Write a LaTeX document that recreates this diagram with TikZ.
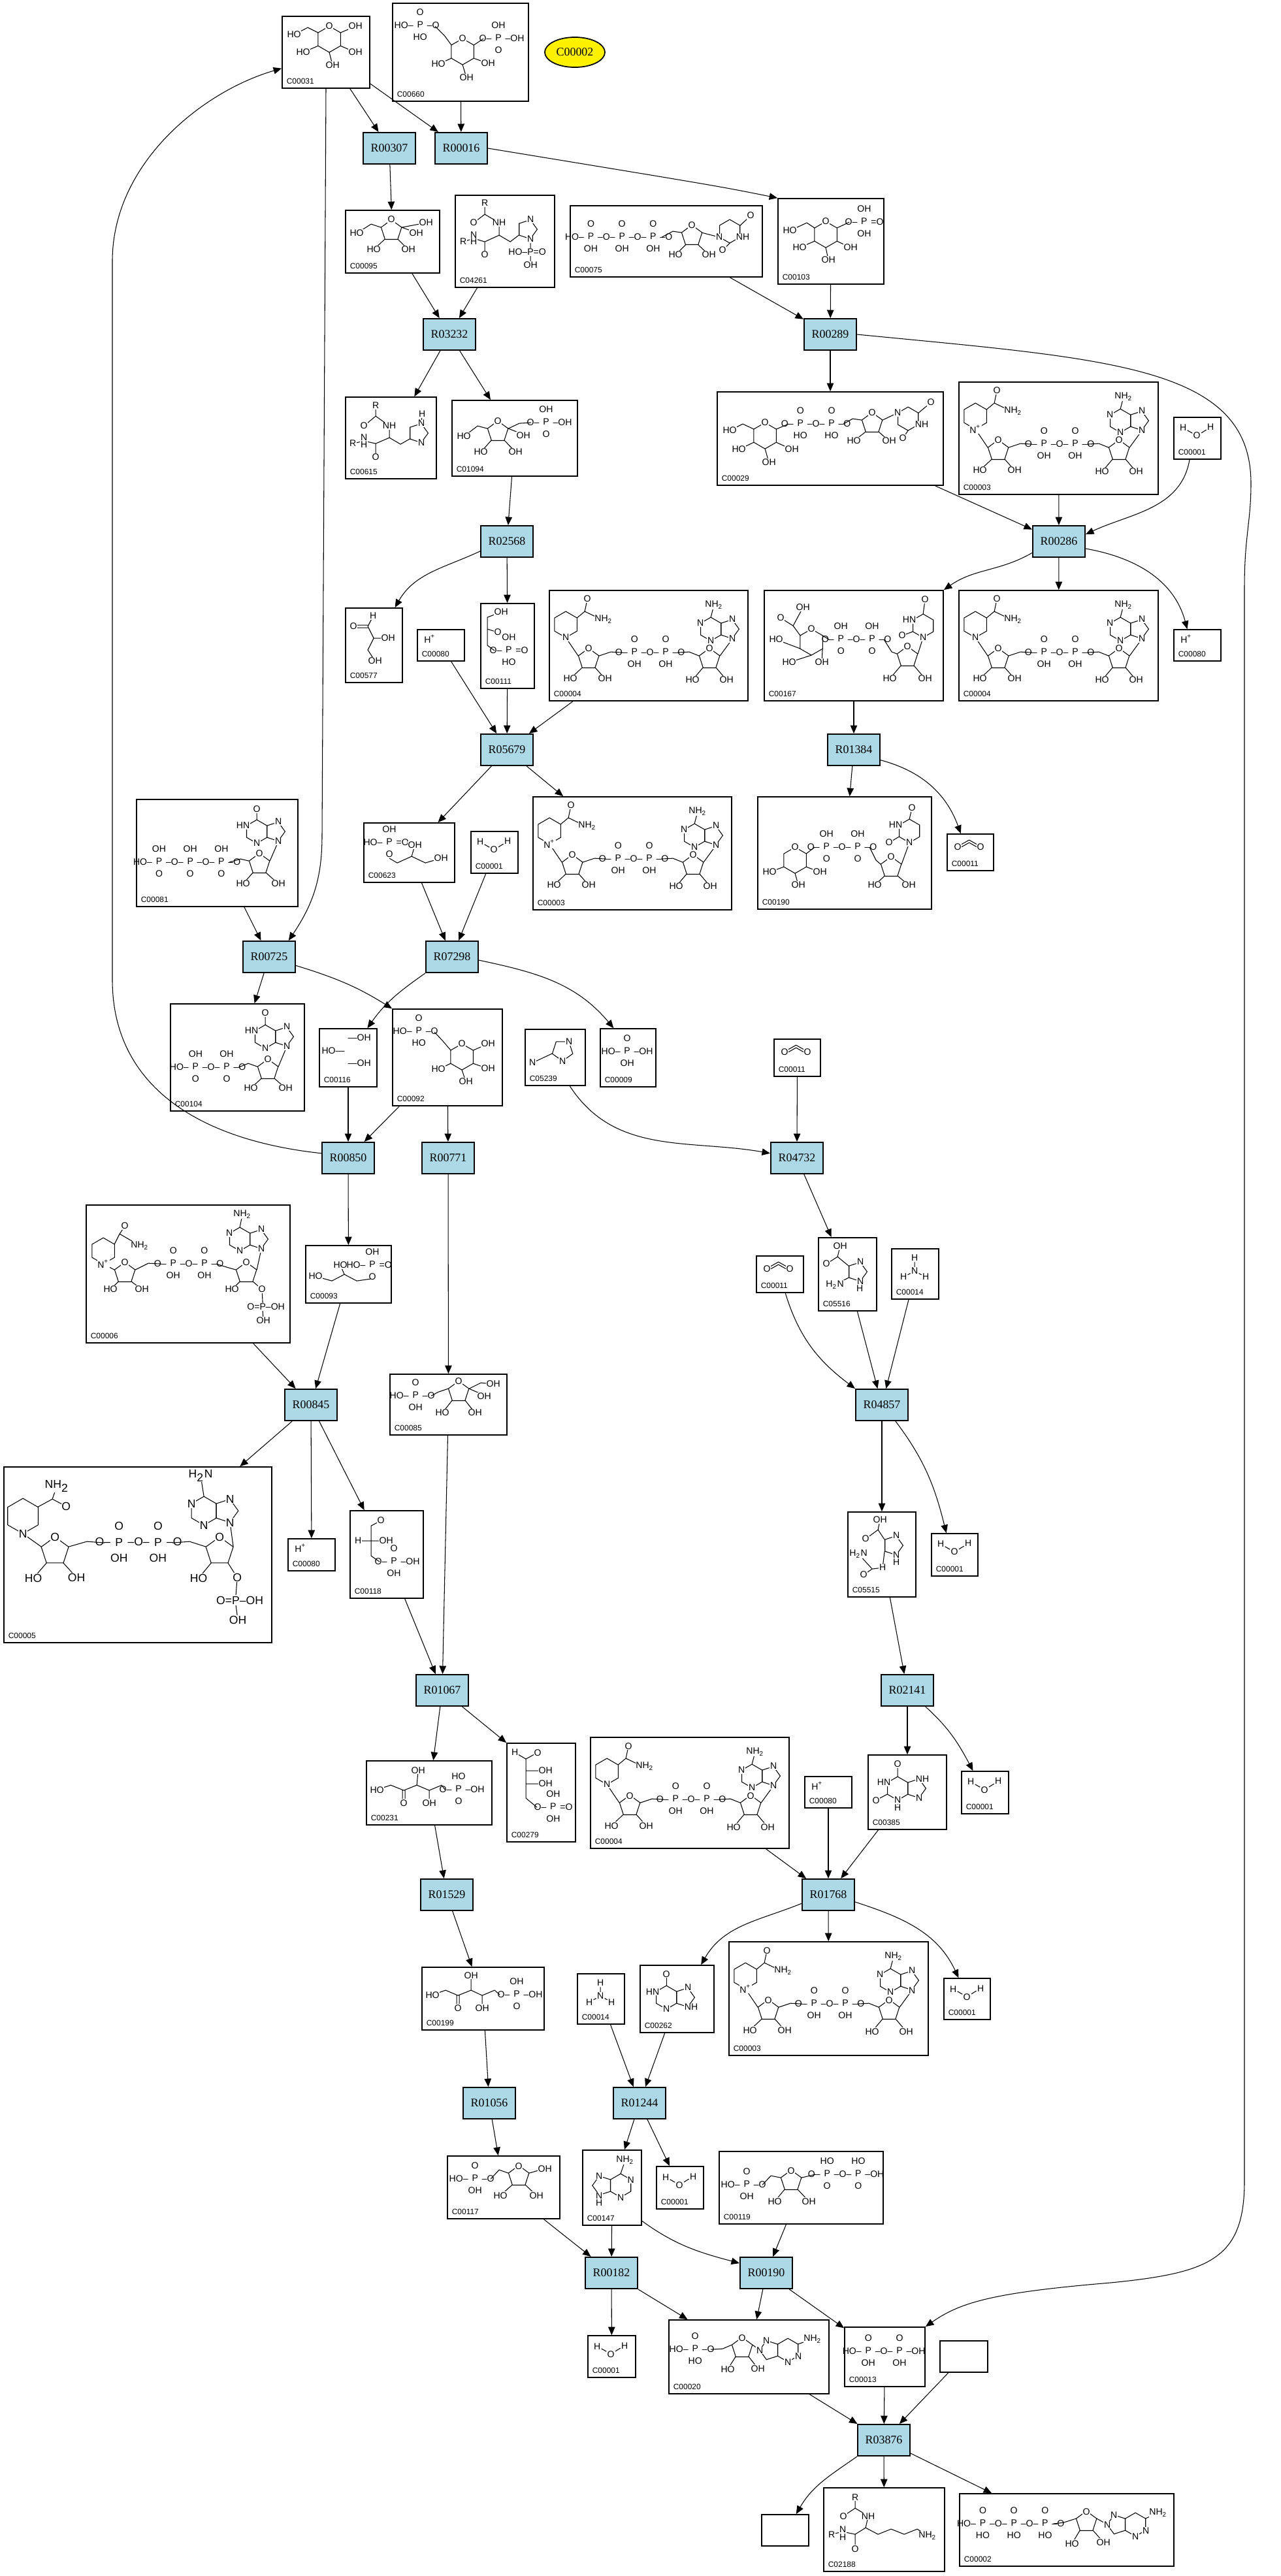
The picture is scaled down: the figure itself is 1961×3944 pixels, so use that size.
\documentclass[tikz,border=0pt]{standalone}
\usepackage{fontspec}
\setmainfont{Liberation Serif}
\setsansfont{Liberation Sans}
\usetikzlibrary{arrows.meta,calc,fit,positioning,shapes.geometric}
\definecolor{rxnblue}{HTML}{ADD8E6}

\tikzset{
  rxn/.style={draw, line width=0.55pt, fill=rxnblue, minimum width=0.8cm, minimum height=0.48cm, inner sep=0pt, font=\fontsize{5.1}{6}\selectfont},
  cpd/.style={draw, line width=0.5pt, inner sep=0pt},
  cid/.style={anchor=south west, inner sep=0.07cm, font=\sffamily\fontsize{3.4}{4}\selectfont},
  arr/.style={line width=0.3pt, -{Triangle[length=1.25mm,width=1.05mm]}},
  atom/.style={inner sep=0.2pt, fill=white, font=\sffamily\fontsize{4}{5.4}\selectfont},
  atomb/.style={atom, font=\sffamily\fontsize{5}{7}\selectfont},
  chain/.style={atom, fill=none},
  chainb/.style={atomb, fill=none},
  bond/.style={line width=0.3pt},
  ring6/.style={draw, line width=0.3pt, inner sep=0pt, regular polygon, regular polygon sides=6, shape border rotate=30, minimum size=0.40cm},
  ring6s/.style={ring6, minimum size=0.36cm},
  ring5/.style={draw, line width=0.3pt, inner sep=0pt, regular polygon, regular polygon sides=5, minimum size=0.33cm},
  ring5l/.style={ring5, minimum size=0.306cm, shape border rotate=270},
  ring5r/.style={ring5, minimum size=0.306cm, shape border rotate=90},
}

\newcommand\atm[3]{\node[atom] at (#1,#2) {#3};}
\newcommand\atmb[3]{\node[atomb] at (#1,#2) {#3};}
\newcommand\chn[3]{\node[chain] at (#1,#2) {#3};}
\newcommand\chnb[3]{\node[chainb] at (#1,#2) {#3};}
\newcommand\Pv[2]{\begin{tabular}{@{}c@{}}#1\\P\\#2\end{tabular}}

\newcommand\water[1]{%
  \path (#1.north west) ++(15,17) node[atom] (#1-h1) {H} ++(21,12) node[atom] (#1-o) {O} ++(21,-13) node[atom] (#1-h2) {H};
  \draw[bond] (#1-h1) -- (#1-o) -- (#1-h2);}
\newcommand\proton[1]{%
  \path (#1.north west) ++(20,15) node[atom] {H\textsuperscript{+}};}
\newcommand\ammonia[1]{%
  \path (#1.north west) ++(36,15) node[atom] (#1-ht) {H} ++(0,20) node[atom] (#1-n) {N} ++(-17,9) node[atom] (#1-hl) {H} ++(34,0) node[atom] (#1-hr) {H};
  \draw[bond] (#1-ht) -- (#1-n) -- (#1-hl) (#1-n) -- (#1-hr);}
\newcommand\molco[1]{\begin{scope}[shift={(#1.north west)}]
  \draw[bond] (22,17)--(34.5,10)--(47,17) (23,20.5)--(34.5,14)--(46,20.5);
  \atm{17}{21}{O}\atm{52}{21}{O}
\end{scope}}

\newcommand\molglucose[1]{\begin{scope}[shift={(#1.north west)}]
  \node[ring6] at (73,36) {};
  \draw[bond] (90,26)--(113,16) (90,46)--(113,56) (73,56)--(78,76) (56,46)--(33,56) (56,26)--(40,18)--(19,29);
  \atm{73}{16}{O}\atm{113}{16}{OH}\atm{19}{29}{HO}\atm{33}{56}{HO}\atm{113}{56}{OH}\atm{78}{76}{OH}
\end{scope}}
\newcommand\molglcbisp[1]{\begin{scope}[shift={(#1.north west)}]
  \node[ring6] at (108,75) {};
  \draw[bond] (91,65)--(80,50)--(66,36) (125,65)--(140,55) (125,85)--(147,93) (108,95)--(114,115) (91,85)--(71,94);
  \atm{108}{55}{O}\chn{38}{35}{HO--\Pv{O}{HO}--O}\chn{168}{55}{O--\Pv{OH}{O}--OH}
  \atm{147}{93}{OH}\atm{114}{115}{OH}\atm{71}{94}{HO}
\end{scope}}
\newcommand\molfructose[1]{\begin{scope}[shift={(#1.north west)}]
  \node[ring5] at (71,32) {};
  \draw[bond] (87,27)--(124,20) (87,27)--(109,35) (81,45)--(97,61) (61,45)--(44,61) (55,27)--(40,22)--(18,36);
  \atm{71}{15}{O}\atm{124}{20}{OH}\atm{109}{36}{OH}\atm{18}{36}{HO}\atm{44}{61}{HO}\atm{97}{61}{OH}
\end{scope}}
\newcommand\molhisp[1]{\begin{scope}[shift={(#1.north west)}]
  \node[ring5l] at (111,53) {};
  \draw[bond] (46,13)--(46,30)--(29,43) (46,30)--(68,43) (68,43)--(68,62)--(46,72)--(46,92) (46,72)--(29,67) (13,72)--(29,67) (68,62)--(85,72)--(98,62) (116,68)--(116,82) (116,94)--(116,103);
  \atm{46}{13}{R}\atm{29}{43}{O}\atm{68}{43}{NH}\atm{29}{62}{N}\atm{29}{72}{H}\atm{13}{72}{R}\atm{46}{92}{O}
  \atm{116}{38}{N}\atm{116}{68}{N}\chn{111}{88}{HO--P=O}\atm{116}{108}{OH}
\end{scope}}
\newcommand\molutp[1]{\begin{scope}[shift={(#1.north west)}]
  \node[ring5] at (187,47) {}; \node[ring6s] at (245,40) {};
  \draw[bond] (141,49)--(158,40)--(172,42) (178,60)--(162,76) (196,60)--(213,76) (202,42)--(229,49) (261,31)--(277,16) (245,58)--(234,69);
  \chn{75}{49}{HO--\Pv{O}{OH}--O--\Pv{O}{OH}--O--\Pv{O}{OH}--O}\atm{187}{31}{O}\atm{162}{76}{HO}\atm{213}{76}{OH}
  \atm{229}{49}{N}\atm{265}{49}{NH}\atm{277}{16}{O}\atm{234}{69}{O}
\end{scope}}
\newcommand\molgonep[1]{\begin{scope}[shift={(#1.north west)}]
  \node[ring6] at (74,56) {};
  \draw[bond] (57,46)--(45,38)--(19,50) (57,66)--(34,76) (91,66)--(112,76) (74,76)--(78,95) (91,46)--(110,37);
  \atm{74}{36}{O}\atm{19}{50}{HO}\atm{34}{76}{HO}\atm{112}{76}{OH}\atm{78}{95}{OH}\chn{133}{37}{O--\Pv{OH}{OH}=O}
\end{scope}}
\newcommand\molhis[1]{\begin{scope}[shift={(#1.north west)}]
  \node[ring5l] at (112,56) {};
  \draw[bond] (47,14)--(47,30)--(29,45) (47,30)--(68,45) (68,45)--(68,63)--(47,72)--(47,93) (47,72)--(29,68) (12,72)--(29,68) (68,63)--(85,73)--(99,65) (117,41)--(118,27);
  \atm{47}{14}{R}\atm{29}{45}{O}\atm{68}{45}{NH}\atm{29}{63}{N}\atm{29}{74}{H}\atm{12}{72}{R}\atm{47}{93}{O}
  \atm{118}{27}{H}\atm{117}{41}{N}\atm{117}{71}{N}
\end{scope}}
\newcommand\molribp[1]{\begin{scope}[shift={(#1.north west)}]
  \node[ring5] at (71,49) {};
  \draw[bond] (55,44)--(40,40)--(19,56) (61,62)--(45,80) (81,62)--(98,80) (87,44)--(110,53) (87,44)--(104,36)--(122,35);
  \atm{71}{33}{O}\atm{19}{56}{HO}\atm{45}{80}{HO}\atm{98}{80}{OH}\atm{110}{55}{OH}\chn{150}{35}{O--\Pv{OH}{O}--OH}
\end{scope}}
\newcommand\moludpg[1]{\begin{scope}[shift={(#1.north west)}]
  \node[ring6] at (74,68) {}; \node[ring5] at (238,49) {}; \node[ring6s] at (293,42) {};
  \draw[bond] (57,58)--(40,50)--(20,60) (57,78)--(34,89) (91,78)--(115,89) (74,88)--(80,109) (91,58)--(110,50) (194,50)--(208,42)--(222,44) (228,62)--(210,76) (248,62)--(264,76) (254,44)--(277,33) (309,33)--(328,17) (293,60)--(285,72);
  \atm{74}{48}{O}\atm{20}{60}{HO}\atm{34}{89}{HO}\atm{115}{89}{OH}\atm{80}{109}{OH}
  \chn{152}{50}{O--\Pv{O}{HO}--O--\Pv{O}{HO}--O}\atm{238}{33}{O}\atm{210}{76}{HO}\atm{264}{76}{OH}
  \atm{277}{33}{N}\atm{314}{51}{NH}\atm{328}{17}{O}\atm{285}{72}{O}
\end{scope}}
\newcommand\molnad[2]{\begin{scope}[shift={(#1.north west)}]
  \node[ring6] at (26,53) {}; \node[ring5] at (61,106) {}; \node[ring5] at (246,106) {};
  \node[ring6s] at (248,60) {}; \node[ring5l] at (276,60) {};
  \draw[bond] (43,43)--(55,33)--(59,14) (55,33)--(80,45) (26,73)--(45,101) (51,119)--(33,136) (71,119)--(86,136) (77,101)--(95,95)--(113,96) (197,96)--(215,95)--(230,101) (236,119)--(220,138) (256,119)--(272,138) (262,101)--(281,75) (248,42)--(253,23);
  \atm{26}{73}{#2}\atm{59}{14}{O}\atm{84}{45}{NH\textsubscript{2}}\atm{61}{90}{O}\atm{33}{136}{HO}\atm{86}{136}{OH}
  \chn{155}{96}{O--\Pv{O}{OH}--O--\Pv{O}{OH}--O}\atm{246}{90}{O}\atm{220}{138}{HO}\atm{272}{138}{OH}
  \atm{232}{51}{N}\atm{248}{78}{N}\atm{281}{45}{N}\atm{281}{75}{N}\atm{253}{23}{NH\textsubscript{2}}
\end{scope}}
\newcommand\molglyald[1]{\begin{scope}[shift={(#1.north west)}]
  \draw[bond] (13,27)--(35,27) (13,31)--(35,31) (35,29)--(43,13) (35,29)--(44,47)--(35,65)--(46,82) (44,47)--(66,47);
  \atm{43}{13}{H}\atm{13}{29}{O}\atm{66}{47}{OH}\atm{46}{82}{OH}
\end{scope}}
\newcommand\moldhap[1]{\begin{scope}[shift={(#1.north west)}]
  \draw[bond] (32,14)--(11,22)--(11,65)--(22,73) (11,40)--(27,45);
  \atm{32}{14}{OH}\atm{27}{45}{O}\chn{44}{73}{O--\Pv{OH}{HO}=O}
\end{scope}}
\newcommand\moludpgluc[1]{\begin{scope}[shift={(#1.north west)}]
  \node[ring6] at (73,80) {}; \node[ring5] at (220,103) {}; \node[ring6s] at (244,55) {};
  \draw[bond] (56,70)--(45,55)--(26,43) (45,55)--(60,27) (56,90)--(19,76) (73,100)--(39,111) (90,90)--(89,111) (90,70)--(100,76) (184,76)--(196,95)--(204,98) (210,116)--(193,136) (230,116)--(247,136) (236,98)--(244,73) (244,37)--(247,15) (228,64)--(212,70);
  \atm{60}{27}{OH}\atm{26}{43}{O}\atm{73}{60}{O}\atm{19}{76}{HO}\atm{39}{111}{HO}\atm{89}{111}{OH}
  \chn{142}{76}{O--\Pv{OH}{O}--O--\Pv{OH}{O}--O}\atm{220}{87}{O}\atm{193}{136}{HO}\atm{247}{136}{OH}
  \atm{244}{73}{N}\atm{223}{46}{HN}\atm{212}{70}{O}\atm{247}{15}{O}
\end{scope}}
\newcommand\molitp[1]{\begin{scope}[shift={(#1.north west)}]
  \node[ring6s] at (185,50) {}; \node[ring5l] at (213,50) {}; \node[ring5] at (189,100) {};
  \draw[bond] (185,32)--(185,16) (143,97)--(160,92)--(173,95) (179,113)--(164,130) (199,113)--(218,130) (205,95)--(218,65);
  \atm{185}{16}{O}\atm{164}{41}{HN}\atm{185}{68}{N}\atm{218}{35}{N}\atm{218}{65}{N}
  \chn{78}{97}{HO--\Pv{OH}{O}--O--\Pv{OH}{O}--O--\Pv{OH}{O}--O}\atm{189}{84}{O}\atm{164}{130}{HO}\atm{218}{130}{OH}
\end{scope}}
\newcommand\molglyp[1]{\begin{scope}[shift={(#1.north west)}]
  \draw[bond] (40,55)--(52,62)--(74,52)--(95,62)--(119,55) (74,52)--(79,35);
  \chn{35}{31}{HO--\Pv{OH}{O}=O}\atm{79}{35}{OH}\atm{119}{55}{OH}
\end{scope}}
\newcommand\moludpx[1]{\begin{scope}[shift={(#1.north west)}]
  \node[ring6] at (58,98) {}; \node[ring5] at (205,109) {}; \node[ring6s] at (233,53) {};
  \draw[bond] (41,108)--(19,116) (75,108)--(96,116) (58,118)--(63,136) (75,88)--(88,78) (172,78)--(182,98)--(189,104) (195,122)--(180,136) (215,122)--(232,136) (221,104)--(233,71) (217,62)--(202,71) (233,35)--(237,18);
  \atm{58}{78}{O}\atm{19}{116}{HO}\atm{96}{116}{OH}\atm{63}{136}{OH}
  \chn{130}{78}{O--\Pv{OH}{O}--O--\Pv{OH}{O}--O}\atm{205}{93}{O}\atm{180}{136}{HO}\atm{232}{136}{OH}
  \atm{233}{71}{N}\atm{212}{44}{HN}\atm{202}{71}{O}\atm{237}{18}{O}
\end{scope}}
\newcommand\molidp[1]{\begin{scope}[shift={(#1.north west)}]
  \node[ring6s] at (146,51) {}; \node[ring5l] at (174,51) {}; \node[ring5] at (150,102) {};
  \draw[bond] (146,33)--(146,15) (105,98)--(120,92)--(134,97) (140,115)--(124,130) (160,115)--(177,130) (166,97)--(179,66);
  \atm{146}{15}{O}\atm{125}{42}{HN}\atm{146}{69}{N}\atm{179}{36}{N}\atm{179}{66}{N}
  \chn{58}{98}{HO--\Pv{OH}{O}--O--\Pv{OH}{O}--O}\atm{150}{86}{O}\atm{124}{130}{HO}\atm{177}{130}{OH}
\end{scope}}
\newcommand\molglycerol[1]{\begin{scope}[shift={(#1.north west)}]
  \atm{62}{15}{---OH}\atm{22}{35}{HO---}\atm{62}{54}{---OH}
\end{scope}}
\newcommand\molgsixp[1]{\begin{scope}[shift={(#1.north west)}]
  \node[ring6] at (107,74) {};
  \draw[bond] (90,64)--(78,50)--(65,36) (124,64)--(147,54) (124,84)--(147,92) (107,94)--(113,112) (90,84)--(71,93);
  \atm{107}{54}{O}\chn{36}{35}{HO--\Pv{O}{HO}--O}\atm{147}{54}{OH}\atm{147}{92}{OH}\atm{113}{112}{OH}\atm{71}{93}{HO}
\end{scope}}
\newcommand\molaimid[1]{\begin{scope}[shift={(#1.north west)}]
  \node[ring5, shape border rotate=36] at (58,33) {};
  \draw[bond] (42,38)--(12,52);
  \atm{68}{20}{N}\atm{58}{50}{N}\atm{12}{52}{N}
\end{scope}}
\newcommand\molpi[1]{\begin{scope}[shift={(#1.north west)}]
  \chn{42}{36}{HO--\Pv{O}{OH}--OH}
\end{scope}}
\newcommand\molnadp[1]{\begin{scope}[shift={(#1.north west)}]
  \node[ring6] at (27,71) {}; \node[ring5] at (60,105) {}; \node[ring5] at (246,105) {};
  \node[ring6s] at (236,53) {}; \node[ring5l] at (264,53) {};
  \draw[bond] (44,61)--(52,45)--(60,33) (52,45)--(83,63) (27,91)--(44,100) (50,118)--(38,130) (70,118)--(86,130) (76,100)--(96,90)--(116,91) (200,91)--(216,96)--(230,100) (236,118)--(224,130) (256,118)--(270,130)--(271,151) (271,163)--(272,178) (262,100)--(269,68) (236,35)--(240,15);
  \atm{27}{91}{N\textsuperscript{+}}\atm{60}{33}{O}\atm{83}{63}{NH\textsubscript{2}}\atm{60}{89}{O}\atm{38}{130}{HO}\atm{86}{130}{OH}
  \chn{158}{91}{O--\Pv{O}{OH}--O--\Pv{O}{OH}--O}\atm{246}{89}{O}\atm{224}{130}{HO}\atm{270}{130}{O}
  \chn{276}{157}{O=P--OH}\atm{272}{178}{OH}\atm{220}{44}{N}\atm{236}{71}{N}\atm{269}{38}{N}\atm{269}{68}{N}\atm{240}{15}{NH\textsubscript{2}}
\end{scope}}
\newcommand\molglycp[1]{\begin{scope}[shift={(#1.north west)}]
  \draw[bond] (16,48)--(41,55)--(60,45)--(79,55)--(100,52) (60,45)--(54,31);
  \atm{16}{48}{HO}\atm{54}{31}{HO}\chn{98}{31}{HO--\Pv{OH}{O}=O}
\end{scope}}
\newcommand\molaicar[1]{\begin{scope}[shift={(#1.north west)}]
  \node[ring5l] at (60,53) {};
  \draw[bond] (34,14)--(30,30)--(13,41) (30,30)--(47,44) (47,62)--(26,73) (65,68)--(64,79);
  \atm{34}{14}{OH}\atm{13}{41}{O}\atm{65}{38}{N}\atm{65}{68}{N}\atm{64}{79}{H}\atm{26}{73}{H\textsubscript{2}N}
\end{scope}}
\newcommand\molfsixp[1]{\begin{scope}[shift={(#1.north west)}]
  \node[ring5] at (106,28) {};
  \draw[bond] (90,23)--(75,28)--(64,34) (122,23)--(140,14)--(159,16) (122,23)--(145,33) (96,41)--(81,60) (116,41)--(131,60);
  \atm{106}{12}{O}\chn{35}{34}{HO--\Pv{O}{OH}--O}\atm{159}{16}{OH}\atm{145}{35}{OH}\atm{81}{60}{HO}\atm{131}{60}{OH}
\end{scope}}
\newcommand\molnadph[1]{\begin{scope}[shift={(#1.north west)}]
  \node[ring6, minimum size=0.54cm] at (30,76) {}; \node[ring5, minimum size=0.44cm] at (79,130) {};
  \node[ring5, minimum size=0.44cm] at (331,130) {}; \node[ring6, minimum size=0.44cm] at (307,68) {};
  \node[ring5l, minimum size=0.374cm] at (341,68) {};
  \draw[bond] (53,62)--(75,50)--(82,30) (75,50)--(96,61) (30,103)--(58,123) (66,148)--(46,171) (92,148)--(112,170) (100,123)--(128,115)--(155,117) (259,117)--(285,115)--(310,123) (318,148)--(299,171) (344,148)--(358,170)--(356,197) (356,213)--(359,235) (352,123)--(347,86) (307,46)--(302,14);
  \atmb{30}{103}{N}\atmb{82}{30}{NH\textsubscript{2}}\atmb{96}{61}{O}\atmb{79}{108}{O}\atmb{46}{171}{HO}\atmb{112}{170}{OH}
  \chnb{207}{117}{O--\Pv{O}{OH}--O--\Pv{O}{OH}--O}\atmb{331}{108}{O}\atmb{299}{171}{HO}\atmb{358}{170}{O}
  \chnb{362}{205}{O=P--OH}\atmb{359}{235}{OH}\atmb{288}{57}{N}\atmb{307}{90}{N}\atmb{347}{50}{N}\atmb{347}{86}{N}\atmb{302}{14}{H\textsubscript{2}N}
\end{scope}}
\newcommand\molgap[1]{\begin{scope}[shift={(#1.north west)}]
  \draw[bond] (48,16)--(33,24)--(33,70)--(46,79) (13,47)--(56,47);
  \atm{48}{16}{O}\atm{13}{47}{H}\atm{56}{47}{OH}\chn{73}{79}{O--\Pv{O}{OH}--OH}
\end{scope}}
\newcommand\molaicarb[1]{\begin{scope}[shift={(#1.north west)}]
  \node[ring5l] at (70,52) {};
  \draw[bond] (50,13)--(47,28)--(28,42) (47,28)--(57,43) (57,61)--(54,86)--(38,88)--(25,97) (38,88)--(17,65) (75,67)--(75,78);
  \atm{50}{13}{OH}\atm{28}{42}{O}\atm{75}{37}{N}\atm{75}{67}{N}\atm{75}{78}{H}\atm{17}{65}{H\textsubscript{2}N}\atm{25}{97}{O}\atm{54}{86}{H}
\end{scope}}
\newcommand\molxup[1]{\begin{scope}[shift={(#1.north west)}]
  \draw[bond] (17,45)--(38,38)--(58,46)--(78,38)--(97,46)--(116,38)--(121,45) (56,46)--(56,65) (60,46)--(60,65) (78,38)--(80,15) (97,46)--(97,65);
  \atm{17}{45}{HO}\atm{58}{65}{O}\atm{80}{15}{OH}\atm{97}{65}{OH}\chn{147}{45}{O--\Pv{HO}{O}--OH}
\end{scope}}
\newcommand\molerythp[1]{\begin{scope}[shift={(#1.north west)}]
  \draw[bond] (13,15)--(30,25)--(48,15) (30,25)--(30,85)--(47,99) (30,43)--(52,43) (30,63)--(52,63);
  \atm{13}{15}{H}\atm{48}{15}{O}\atm{60}{43}{OH}\atm{60}{63}{OH}\chn{72}{99}{O--\Pv{OH}{OH}=O}
\end{scope}}
\newcommand\molxan[1]{\begin{scope}[shift={(#1.north west)}]
  \node[ring6s] at (46,52) {}; \node[ring5l] at (74,52) {};
  \draw[bond] (46,34)--(46,15) (30,61)--(13,70) (46,70)--(46,82);
  \atm{46}{15}{O}\atm{25}{43}{HN}\atm{84}{38}{NH}\atm{13}{70}{O}\atm{46}{70}{N}\atm{46}{82}{H}\atm{79}{67}{N}
\end{scope}}
\newcommand\molruvp[1]{\begin{scope}[shift={(#1.north west)}]
  \draw[bond] (17,43)--(37,36)--(56,44)--(76,36)--(93,44)--(112,36)--(120,43) (54,44)--(54,63) (58,44)--(58,63) (76,36)--(76,13) (93,44)--(93,63);
  \atm{17}{43}{HO}\atm{56}{63}{O}\atm{76}{13}{OH}\atm{93}{63}{OH}\chn{151}{43}{O--\Pv{OH}{O}--OH}
\end{scope}}
\newcommand\molhypox[1]{\begin{scope}[shift={(#1.north west)}]
  \node[ring6s] at (41,50) {}; \node[ring5l] at (69,50) {};
  \draw[bond] (41,32)--(41,14);
  \atm{41}{14}{O}\atm{20}{41}{HN}\atm{74}{35}{N}\atm{79}{65}{NH}\atm{41}{68}{N}
\end{scope}}
\newcommand\molrvp[1]{\begin{scope}[shift={(#1.north west)}]
  \node[ring5] at (110,32) {};
  \draw[bond] (94,27)--(80,22)--(67,36) (126,27)--(150,20) (120,45)--(137,61) (100,45)--(82,61);
  \atm{110}{16}{O}\chn{38}{36}{HO--\Pv{O}{OH}--O}\atm{150}{20}{OH}\atm{82}{61}{HO}\atm{137}{61}{OH}
\end{scope}}
\newcommand\molade[1]{\begin{scope}[shift={(#1.north west)}]
  \node[ring6s] at (59,55) {}; \node[ring5r] at (31,55) {};
  \draw[bond] (59,37)--(66,16) (26,70)--(26,81);
  \atm{66}{16}{NH\textsubscript{2}}\atm{74.6}{46}{N}\atm{59}{73}{N}\atm{26}{40}{N}\atm{26}{70}{N}\atm{26}{81}{H}
\end{scope}}
\newcommand\molprpp[1]{\begin{scope}[shift={(#1.north west)}]
  \node[ring5] at (111,46) {};
  \draw[bond] (95,41)--(80,38)--(67,52) (127,41)--(148,36) (121,59)--(138,77) (101,59)--(86,77);
  \atm{111}{30}{O}\chn{38}{52}{HO--\Pv{O}{OH}--O}\atm{86}{77}{HO}\atm{138}{77}{OH}
  \chn{195}{36}{O--\Pv{HO}{O}--O--\Pv{HO}{O}--OH}
\end{scope}}
\newcommand\molamp[1]{\begin{scope}[shift={(#1.north west)}]
  \node[ring5] at (113,44) {}; \node[ring6s] at (183,47) {}; \node[ring5r] at (155,47) {};
  \draw[bond] (97,39)--(83,45)--(65,46) (129,39)--(140,47) (123,57)--(137,75) (103,57)--(91,76) (198,38)--(221,30);
  \chn{36}{46}{HO--\Pv{O}{HO}--O}\atm{113}{28}{O}\atm{91}{76}{HO}\atm{137}{75}{OH}
  \atm{140}{47}{N}\atm{150}{32}{N}\atm{221}{30}{NH\textsubscript{2}}\atm{199}{56}{N}\atm{183}{65}{N}
\end{scope}}
\newcommand\molppi[1]{\begin{scope}[shift={(#1.north west)}]
  \chn{61}{38}{HO--\Pv{O}{OH}--O--\Pv{O}{OH}--OH}
\end{scope}}
\newcommand\mollys[1]{\begin{scope}[shift={(#1.north west)}]
  \draw[bond] (49,15)--(49,32)--(31,44) (49,32)--(69,44) (69,44)--(65,62)--(49,72)--(49,94) (49,72)--(30,68) (13,72)--(30,68) (65,62)--(84,72)--(104,64)--(124,72)--(144,64)--(160,74);
  \atm{49}{15}{R}\atm{31}{44}{O}\atm{69}{44}{NH}\atm{13}{72}{R}\atm{30}{64}{N}\atm{30}{76}{H}\atm{49}{94}{O}\atm{160}{74}{NH\textsubscript{2}}
\end{scope}}
\newcommand\molatp[1]{\begin{scope}[shift={(#1.north west)}]
  \node[ring5] at (195,44) {}; \node[ring6s] at (270,48) {}; \node[ring5r] at (242,48) {};
  \draw[bond] (179,39)--(160,45)--(144,47) (211,39)--(227,48) (205,57)--(221,75) (185,57)--(173,77) (285,39)--(305,30);
  \chn{79}{47}{HO--\Pv{O}{HO}--O--\Pv{O}{HO}--O--\Pv{O}{HO}--O}\atm{195}{28}{O}\atm{173}{77}{HO}\atm{221}{75}{OH}
  \atm{227}{48}{N}\atm{237}{33}{N}\atm{305}{30}{NH\textsubscript{2}}\atm{286}{57}{N}\atm{270}{66}{N}
\end{scope}}

\begin{document}
\begin{tikzpicture}[x=0.01cm, y=-0.01cm]
\useasboundingbox (0,0) rectangle (1961,3944);

\node[cpd, fit={(432,25) (566,135)}, label={[cid]south west:C00031}] (c00031) {};
\node[cpd, fit={(601,5) (809,155)}, label={[cid]south west:C00660}] (c00660) {};
\node[ellipse, draw, line width=0.5pt, fill=yellow, minimum width=0.92cm, minimum height=0.46cm, inner sep=0pt, font=\fontsize{5.1}{6}\selectfont] (c00002a) at (880,80) {C00002};
\node[rxn] (r00307) at (596,227) {R00307};
\node[rxn] (r00016) at (706,227) {R00016};
\node[cpd, fit={(529,322) (673,418)}, label={[cid]south west:C00095}] (c00095) {};
\node[cpd, fit={(697,299) (849,440)}, label={[cid]south west:C04261}] (c04261) {};
\node[cpd, fit={(873,315) (1167,424)}, label={[cid]south west:C00075}] (c00075) {};
\node[cpd, fit={(1191,304) (1353,435)}, label={[cid]south west:C00103}] (c00103) {};
\node[rxn] (r03232) at (688,512) {R03232};
\node[rxn] (r00289) at (1271,512) {R00289};
\node[cpd, fit={(529,608) (668,733)}, label={[cid]south west:C00615}] (c00615) {};
\node[cpd, fit={(692,613) (884,729)}, label={[cid]south west:C01094}] (c01094) {};
\node[cpd, fit={(1098,600) (1444,743)}, label={[cid]south west:C00029}] (c00029) {};
\node[cpd, fit={(1468,585) (1773,757)}, label={[cid]south west:C00003}] (c00003a) {};
\node[cpd, fit={(1797,639) (1869,703)}, label={[cid]south west:C00001}] (c00001a) {};
\node[rxn] (r02568) at (776,829) {R02568};
\node[rxn] (r00286) at (1621,829) {R00286};
\node[cpd, fit={(529,931) (616,1045)}, label={[cid]south west:C00577}] (c00577) {};
\node[cpd, fit={(639,964) (711,1012)}, label={[cid]south west:C00080}] (c00080a) {};
\node[cpd, fit={(736,924) (818,1054)}, label={[cid]south west:C00111}] (c00111) {};
\node[cpd, fit={(841,904) (1145,1073)}, label={[cid]south west:C00004}] (c00004a) {};
\node[cpd, fit={(1170,904) (1444,1073)}, label={[cid]south west:C00167}] (c00167) {};
\node[cpd, fit={(1468,904) (1773,1073)}, label={[cid]south west:C00004}] (c00004b) {};
\node[cpd, fit={(1797,964) (1869,1012)}, label={[cid]south west:C00080}] (c00080b) {};
\node[rxn] (r05679) at (776,1148) {R05679};
\node[rxn] (r01384) at (1307,1148) {R01384};
\node[cpd, fit={(209,1224) (456,1388)}, label={[cid]south west:C00081}] (c00081) {};
\node[cpd, fit={(557,1260) (696,1351)}, label={[cid]south west:C00623}] (c00623) {};
\node[cpd, fit={(721,1273) (793,1337)}, label={[cid]south west:C00001}] (c00001b) {};
\node[cpd, fit={(816,1220) (1120,1393)}, label={[cid]south west:C00003}] (c00003b) {};
\node[cpd, fit={(1160,1220) (1426,1392)}, label={[cid]south west:C00190}] (c00190) {};
\node[cpd, fit={(1450,1277) (1521,1333)}, label={[cid]south west:C00011}] (c00011a) {};
\node[rxn] (r00725) at (412,1465) {R00725};
\node[rxn] (r07298) at (692,1465) {R07298};
\node[cpd, fit={(261,1537) (466,1701)}, label={[cid]south west:C00104}] (c00104) {};
\node[cpd, fit={(489,1575) (577,1664)}, label={[cid]south west:C00116}] (c00116) {};
\node[cpd, fit={(601,1545) (769,1693)}, label={[cid]south west:C00092}] (c00092) {};
\node[cpd, fit={(804,1576) (896,1662)}, label={[cid]south west:C05239}] (c05239) {};
\node[cpd, fit={(919,1575) (1004,1664)}, label={[cid]south west:C00009}] (c00009) {};
\node[cpd, fit={(1185,1591) (1256,1648)}, label={[cid]south west:C00011}] (c00011b) {};
\node[rxn] (r00850) at (533,1773) {R00850};
\node[rxn] (r00771) at (686,1773) {R00771};
\node[rxn] (r04732) at (1220,1773) {R04732};
\node[cpd, fit={(132,1845) (444,2056)}, label={[cid]south west:C00006}] (c00006) {};
\node[cpd, fit={(468,1907) (599,1995)}, label={[cid]south west:C00093}] (c00093) {};
\node[cpd, fit={(1158,1923) (1230,1979)}, label={[cid]south west:C00011}] (c00011c) {};
\node[cpd, fit={(1253,1895) (1342,2007)}, label={[cid]south west:C05516}] (c05516) {};
\node[cpd, fit={(1365,1912) (1437,1989)}, label={[cid]south west:C00014}] (c00014a) {};
\node[cpd, fit={(597,2104) (776,2197)}, label={[cid]south west:C00085}] (c00085) {};
\node[rxn] (r00845) at (476,2151) {R00845};
\node[rxn] (r04857) at (1350,2151) {R04857};
\node[cpd, fit={(6,2246) (416,2515)}, label={[cid]south west:C00005}] (c00005) {};
\node[cpd, fit={(441,2356) (513,2405)}, label={[cid]south west:C00080}] (c00080c) {};
\node[cpd, fit={(536,2313) (648,2447)}, label={[cid]south west:C00118}] (c00118) {};
\node[cpd, fit={(1298,2315) (1402,2445)}, label={[cid]south west:C05515}] (c05515) {};
\node[cpd, fit={(1426,2348) (1497,2413)}, label={[cid]south west:C00001}] (c00001c) {};
\node[rxn] (r01067) at (677,2588) {R01067};
\node[rxn] (r02141) at (1389,2588) {R02141};
\node[cpd, fit={(561,2696) (753,2794)}, label={[cid]south west:C00231}] (c00231) {};
\node[cpd, fit={(776,2669) (881,2820)}, label={[cid]south west:C00279}] (c00279) {};
\node[cpd, fit={(904,2660) (1208,2830)}, label={[cid]south west:C00004}] (c00004c) {};
\node[cpd, fit={(1232,2720) (1304,2768)}, label={[cid]south west:C00080}] (c00080d) {};
\node[cpd, fit={(1329,2687) (1449,2801)}, label={[cid]south west:C00385}] (c00385) {};
\node[cpd, fit={(1472,2712) (1544,2777)}, label={[cid]south west:C00001}] (c00001d) {};
\node[rxn] (r01529) at (684,2901) {R01529};
\node[rxn] (r01768) at (1268,2901) {R01768};
\node[cpd, fit={(646,3012) (833,3108)}, label={[cid]south west:C00199}] (c00199) {};
\node[cpd, fit={(884,3022) (956,3099)}, label={[cid]south west:C00014}] (c00014b) {};
\node[cpd, fit={(980,3009) (1093,3112)}, label={[cid]south west:C00262}] (c00262) {};
\node[cpd, fit={(1116,2973) (1421,3147)}, label={[cid]south west:C00003}] (c00003c) {};
\node[cpd, fit={(1445,3029) (1516,3092)}, label={[cid]south west:C00001}] (c00001e) {};
\node[rxn] (r01056) at (749,3220) {R01056};
\node[rxn] (r01244) at (979,3220) {R01244};
\node[cpd, fit={(685,3301) (857,3397)}, label={[cid]south west:C00117}] (c00117) {};
\node[cpd, fit={(892,3292) (982,3407)}, label={[cid]south west:C00147}] (c00147) {};
\node[cpd, fit={(1005,3317) (1077,3382)}, label={[cid]south west:C00001}] (c00001f) {};
\node[cpd, fit={(1101,3294) (1352,3405)}, label={[cid]south west:C00119}] (c00119) {};
\node[rxn] (r00182) at (936,3480) {R00182};
\node[rxn] (r00190) at (1173,3480) {R00190};
\node[cpd, fit={(900,3576) (973,3640)}, label={[cid]south west:C00001}] (c00001g) {};
\node[cpd, fit={(1024,3552) (1269,3665)}, label={[cid]south west:C00020}] (c00020) {};
\node[cpd, fit={(1293,3563) (1416,3654)}, label={[cid]south west:C00013}] (c00013) {};
\node[cpd, fit={(1439,3584) (1512,3632)}] (empty1) {};
\node[rxn] (r03876) at (1353,3736) {R03876};
\node[cpd, fit={(1166,3850) (1238,3898)}] (empty2) {};
\node[cpd, fit={(1261,3809) (1446,3937)}, label={[cid]south west:C02188}] (c02188) {};
\node[cpd, fit={(1469,3818) (1797,3929)}, label={[cid]south west:C00002}] (c00002b) {};

\water{c00001a} \water{c00001b} \water{c00001c} \water{c00001d}
\water{c00001e} \water{c00001f} \water{c00001g}
\proton{c00080a} \proton{c00080b} \proton{c00080c} \proton{c00080d}
\molco{c00011a} \molco{c00011b} \molco{c00011c}
\ammonia{c00014a} \ammonia{c00014b}
\molglucose{c00031} \molglcbisp{c00660} \molfructose{c00095} \molhisp{c04261}
\molutp{c00075} \molgonep{c00103} \molhis{c00615} \molribp{c01094} \moludpg{c00029}
\molnad{c00003a}{N\textsuperscript{+}} \molnad{c00003b}{N\textsuperscript{+}} \molnad{c00003c}{N\textsuperscript{+}}
\molnad{c00004a}{N} \molnad{c00004b}{N} \molnad{c00004c}{N}
\molglyald{c00577} \moldhap{c00111} \moludpgluc{c00167} \molitp{c00081} \molglyp{c00623}
\moludpx{c00190} \molidp{c00104} \molglycerol{c00116} \molgsixp{c00092} \molaimid{c05239}
\molpi{c00009} \molnadp{c00006} \molglycp{c00093} \molaicar{c05516} \molfsixp{c00085}
\molnadph{c00005} \molgap{c00118} \molaicarb{c05515} \molxup{c00231} \molerythp{c00279}
\molxan{c00385} \molruvp{c00199} \molhypox{c00262} \molrvp{c00117} \molade{c00147}
\molprpp{c00119} \molamp{c00020} \molppi{c00013} \mollys{c02188} \molatp{c00002b}

\draw[arr] (c00031) -- (r00307);
\draw[arr] (c00031) -- (r00016);
\draw[arr] (c00660) -- (r00016);
\draw[arr] (r00016.east) .. controls (1100,285) .. (c00103.north west);
\draw[arr] (r00307) -- (c00095);
\draw[arr] (c00095) -- (r03232);
\draw[arr] (c04261) -- (r03232);
\draw[arr] (c00075) -- (r00289);
\draw[arr] (c00103) -- (r00289);
\draw[arr] (r03232) -- (c00615);
\draw[arr] (r03232) -- (c01094);
\draw[arr] (r00289) -- (c00029);
\draw[arr] (r00289.east) .. controls (1700,550) and (1915,560) .. (1915,740) .. controls (1915,800) and (1905,820) .. (1905,900) -- (1905,3340) .. controls (1905,3460) and (1850,3480) .. (1700,3495) .. controls (1520,3510) and (1470,3525) .. (c00013.north east);
\draw[arr] (c01094) -- (r02568);
\draw[arr] (c00029) -- (r00286);
\draw[arr] (c00003a) -- (r00286);
\draw[arr] (c00001a.250) to[out=-100,in=25] (r00286.15);
\draw[arr] (r02568.200) to[out=205,in=60] (c00577.61);
\draw[arr] (r02568) -- (c00111);
\draw[arr] (c00080a) -- (r05679);
\draw[arr] (c00111) -- (r05679);
\draw[arr] (c00004a) -- (r05679);
\draw[arr] (r00286.203) to[out=210,in=35] (c00167.north east);
\draw[arr] (r00286) -- (c00004b);
\draw[arr] (r00286.345) to[out=-10,in=105] (c00080b.122);
\draw[arr] (c00167) -- (r01384);
\draw[arr] (r05679) -- (c00623);
\draw[arr] (r05679) -- (c00003b);
\draw[arr] (r01384) -- (c00190);
\draw[arr] (r01384.339) to[out=-15,in=110] (c00011a.117);
\draw[arr] (c00081) -- (r00725);
\draw[arr] (c00031.south) -- (493,1280) to[out=-90,in=56] (r00725.40);
\draw[arr] (r00725) -- (c00104);
\draw[arr] (r00725.342) to[out=-17,in=148] (c00092.north west);
\draw[arr] (c00623) -- (r07298);
\draw[arr] (c00001b) -- (r07298);
\draw[arr] (r07298.south west) to[out=215,in=55] (c00116.57);
\draw[arr] (r07298.353) to[out=-12,in=130] (c00009.116);
\draw[arr] (c00116) -- (r00850);
\draw[arr] (c00092) -- (r00850);
\draw[arr] (c00092) -- (r00771);
\draw[arr] (r00850.170) .. controls (300,1745) and (172,1660) .. (172,1500) -- (172,400) .. controls (172,250) and (310,140) .. (c00031.200);
\draw[arr] (c05239.297) to[out=-57,in=170] (r04732.170);
\draw[arr] (c00011b) -- (r04732);
\draw[arr] (r04732) -- (c05516);
\draw[arr] (r00850) -- (c00093);
\draw[arr] (r00771) -- (c00085);
\draw[arr] (c00006) -- (r00845);
\draw[arr] (c00093) -- (r00845);
\draw[arr] (c00011c.286) to[out=-73,in=143] (r04857.north west);
\draw[arr] (c05516) -- (r04857);
\draw[arr] (c00014a) -- (r04857);
\draw[arr] (r00845) -- (c00005);
\draw[arr] (r00845) -- (c00080c);
\draw[arr] (r00845) -- (c00118);
\draw[arr] (c00085) -- (r01067);
\draw[arr] (c00118) -- (r01067);
\draw[arr] (r04857) -- (c05515);
\draw[arr] (r04857.310) to[out=-53,in=104] (c00001c.111);
\draw[arr] (c05515) -- (r02141);
\draw[arr] (r01067) -- (c00231);
\draw[arr] (r01067) -- (c00279.north west);
\draw[arr] (r02141) -- (c00385);
\draw[arr] (r02141.318) to[out=-42,in=118] (c00001d.119);
\draw[arr] (c00231) -- (r01529);
\draw[arr] (c00004c) -- (r01768);
\draw[arr] (c00080d) -- (r01768);
\draw[arr] (c00385) -- (r01768);
\draw[arr] (r01529) -- (c00199);
\draw[arr] (r01768.198) to[out=202,in=60] (c00262.55);
\draw[arr] (r01768) -- (c00003c);
\draw[arr] (r01768.345) to[out=-18,in=115] (c00001e.112);
\draw[arr] (c00199) -- (r01056);
\draw[arr] (c00014b) -- (r01244);
\draw[arr] (c00262) -- (r01244);
\draw[arr] (r01056) -- (c00117);
\draw[arr] (r01244) -- (c00147);
\draw[arr] (r01244) -- (c00001f);
\draw[arr] (c00117) -- (r00182);
\draw[arr] (c00147) -- (r00182);
\draw[arr] (c00147.-48) to[out=-36,in=165] (r00190.160);
\draw[arr] (c00119) -- (r00190);
\draw[arr] (r00182) -- (c00001g);
\draw[arr] (r00182) -- (c00020);
\draw[arr] (r00190) -- (c00020);
\draw[arr] (r00190) -- (c00013);
\draw[arr] (c00020) -- (r03876);
\draw[arr] (c00013) -- (r03876);
\draw[arr] (empty1) -- (r03876);
\draw[arr] (r03876.south west) to[out=215,in=60] (empty2.56);
\draw[arr] (r03876) -- (c02188);
\draw[arr] (r03876) -- (c00002b);
\end{tikzpicture}
\end{document}
